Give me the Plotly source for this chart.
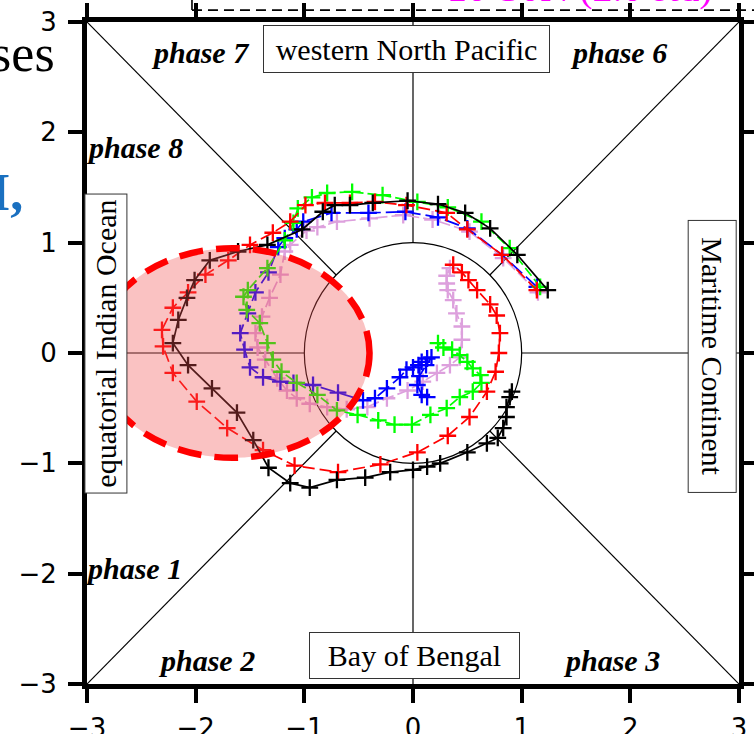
import plotly.graph_objects as go

# ---------------- data ----------------
black_x = [1.24, 0.96, 0.71, 0.48, 0.23, -0.05, -0.37, -0.58, -0.72, -0.83, -1.02, -1.34, -1.61, -1.87,
           -2.01, -2.08, -2.16, -2.21, -2.07, -1.85, -1.62, -1.47, -1.33, -1.13, -0.95, -0.70, -0.44,
           -0.21, 0.00, 0.13, 0.25, 0.50, 0.68, 0.78, 0.83, 0.86, 0.86, 0.89, 0.91]
black_y = [0.57, 0.89, 1.13, 1.27, 1.35, 1.38, 1.36, 1.34, 1.34, 1.28, 1.12, 0.98, 0.92, 0.84,
           0.66, 0.50, 0.30, 0.09, -0.11, -0.32, -0.54, -0.79, -1.04, -1.18, -1.22, -1.15, -1.13,
           -1.08, -1.06, -1.03, -1.00, -0.90, -0.82, -0.77, -0.68, -0.58, -0.49, -0.40, -0.35]

red_x = [1.14, 0.82, 0.50, 0.31, -0.06, -0.35, -0.58, -0.81, -0.99, -1.13, -1.29, -1.50, -1.70, -1.91,
         -2.07, -2.21, -2.31, -2.30, -2.21, -1.99, -1.71, -1.38, -1.09, -0.69, -0.30, 0.04, 0.32,
         0.52, 0.68, 0.76, 0.79, 0.80, 0.77, 0.71, 0.59, 0.51, 0.45, 0.37]
red_y = [0.57, 0.89, 1.12, 1.27, 1.34, 1.37, 1.36, 1.36, 1.34, 1.19, 1.09, 0.98, 0.84, 0.71,
         0.55, 0.41, 0.21, 0.06, -0.18, -0.44, -0.68, -0.88, -1.02, -1.08, -1.01, -0.90, -0.75,
         -0.58, -0.35, -0.17, 0.00, 0.18, 0.34, 0.44, 0.57, 0.66, 0.73, 0.80]

green_x = [1.17, 0.89, 0.63, 0.32, 0.04, -0.28, -0.56, -0.79, -0.93, -1.06, -1.10, -1.18, -1.34, -1.52,
           -1.56, -1.53, -1.41, -1.34, -1.29, -1.21, -1.07, -0.88, -0.70, -0.51, -0.32, -0.17, -0.01,
           0.16, 0.31, 0.43, 0.55, 0.63, 0.62, 0.55, 0.50, 0.43, 0.36, 0.28, 0.23]
green_y = [0.60, 0.95, 1.19, 1.32, 1.37, 1.43, 1.46, 1.45, 1.41, 1.31, 1.18, 1.02, 0.77, 0.57,
           0.51, 0.39, 0.27, 0.09, -0.06, -0.17, -0.27, -0.38, -0.52, -0.56, -0.61, -0.65, -0.65,
           -0.56, -0.50, -0.40, -0.35, -0.27, -0.20, -0.14, -0.08, -0.02, 0.03, 0.05, 0.09]

blue_x = [1.14, 0.82, 0.50, 0.23, -0.07, -0.41, -0.75, -1.01, -1.07, -1.18, -1.24, -1.33, -1.45, -1.52,
          -1.59, -1.55, -1.50, -1.38, -1.22, -1.10, -0.92, -0.69, -0.46, -0.35, -0.24, -0.12, -0.06,
          0.00, 0.05, 0.08, 0.13, 0.17, 0.12, 0.06, 0.04, 0.08, 0.13]
blue_y = [0.60, 0.89, 1.13, 1.23, 1.28, 1.27, 1.27, 1.19, 1.12, 1.04, 0.96, 0.73, 0.55, 0.36,
          0.18, 0.03, -0.13, -0.22, -0.26, -0.27, -0.29, -0.36, -0.43, -0.41, -0.32, -0.22, -0.15,
          -0.13, -0.11, -0.08, -0.05, -0.04, -0.11, -0.21, -0.29, -0.38, -0.40]

plum_x = [1.15, 0.83, 0.52, 0.18, -0.09, -0.40, -0.70, -0.88, -0.98, -1.13, -1.18, -1.22, -1.32, -1.39,
          -1.45, -1.43, -1.36, -1.25, -1.16, -1.07, -0.95, -0.79, -0.61, -0.42, -0.24, -0.05, 0.09,
          0.22, 0.34, 0.43, 0.45, 0.45, 0.40, 0.37, 0.32, 0.31, 0.31, 0.34]
plum_y = [0.55, 0.86, 1.10, 1.21, 1.25, 1.22, 1.19, 1.14, 1.11, 0.98, 0.92, 0.71, 0.50, 0.33,
          0.18, 0.05, -0.06, -0.23, -0.34, -0.41, -0.46, -0.49, -0.51, -0.49, -0.41, -0.34, -0.26,
          -0.18, -0.11, -0.04, 0.12, 0.24, 0.36, 0.48, 0.57, 0.63, 0.70, 0.77]

tick_vals = [-3, -2, -1, 0, 1, 2, 3]

regions = ["western North Pacific", "Bay of Bengal", "equatorial Indian Ocean", "Maritime Continent"]
phases = ["phase 1", "phase 2", "phase 3", "phase 6", "phase 7", "phase 8"]

# ---------------- figure ----------------
fig = go.Figure()

series = [
    ("plum", plum_x, plum_y, "#dda0dd", "12px,4px"),
    ("blue", blue_x, blue_y, "#0000ff", "15px,5px"),
    ("green", green_x, green_y, "#00ff00", "10px,4px"),
    ("red", red_x, red_y, "#ff0000", "12px,5px"),
    ("black", black_x, black_y, "#000000", "solid"),
]
for name, xs, ys, col, dash in series:
    fig.add_trace(go.Scatter(
        x=xs, y=ys, mode="lines+markers", name=name, showlegend=False,
        line=dict(color=col, width=1.7, dash=dash),
        marker=dict(symbol="cross-thin", size=12, line=dict(color=col, width=2.3), color=col),
        cliponaxis=False,
    ))

shapes = []
thin = dict(color="black", width=1.2)
r = 0.70710678
for sx, sy in [(-1, 1), (1, 1), (-1, -1), (1, -1)]:
    shapes.append(dict(type="line", xref="x", yref="y", x0=3 * sx, y0=3 * sy, x1=r * sx, y1=r * sy, line=thin, layer="below"))
shapes += [
    dict(type="line", xref="x", yref="y", x0=-3, y0=0, x1=-1, y1=0, line=thin, layer="below"),
    dict(type="line", xref="x", yref="y", x0=1, y0=0, x1=3, y1=0, line=thin, layer="below"),
    dict(type="line", xref="x", yref="y", x0=0, y0=1, x1=0, y1=3, line=thin, layer="below"),
    dict(type="line", xref="x", yref="y", x0=0, y0=-1, x1=0, y1=-3, line=thin, layer="below"),
    dict(type="circle", xref="x", yref="y", x0=-1, y0=-1, x1=1, y1=1, line=thin, layer="below"),
    # highlighted ellipse
    dict(type="circle", xref="x", yref="y", x0=-2.92, y0=-0.95, x1=-0.40, y1=0.95,
         fillcolor="rgba(240,80,80,0.35)", line=dict(color="#ff0000", width=6.5, dash="24px,13px"),
         layer="above"),
    # dashed box edge of the panel above (cropped)
    dict(type="line", xref="paper", yref="paper", x0=0.161, y0=1.018, x1=1.03, y1=1.018,
         line=dict(color="black", width=1.6, dash="10px,6px")),
    dict(type="line", xref="paper", yref="paper", x0=0.161, y0=1.018, x1=0.161, y1=1.05,
         line=dict(color="black", width=1.6)),
]

serif = "Liberation Serif"
annotations = []
box_specs = [
    (regions[0], -0.06, 2.756, 0, 283, 44),
    (regions[1], 0.01, -2.74, 0, 207, 43),
    (regions[2], -2.83, 0.09, -90, 296, 39),
    (regions[3], 2.755, -0.03, 90, 269, 45),
]
for txt, x, y, ang, w, h in box_specs:
    annotations.append(dict(text=txt, x=x, y=y, xref="x", yref="y", showarrow=False,
                            textangle=ang, width=w, height=h, align="center", valign="middle",
                            font=dict(family=serif, size=30, color="black"),
                            bgcolor="white", bordercolor="#333333", borderwidth=1, borderpad=1))
phase_pos = [(-2.57, -1.95), (-1.90, -2.79), (1.83, -2.79), (1.89, 2.72), (-1.96, 2.72), (-2.56, 1.86)]
for txt, (x, y) in zip(phases, phase_pos):
    annotations.append(dict(text="<b><i>%s</i></b>" % txt, x=x, y=y, xref="x", yref="y", showarrow=False,
                            font=dict(family=serif, size=30, color="black")))

# cropped surrounding text
annotations += [
    dict(text="phases", x=-0.046, y=0.952, xref="paper", yref="paper", xanchor="right", yanchor="middle",
         showarrow=False, font=dict(family=serif, size=52, color="black")),
    dict(text="<b>I,</b>", x=-0.095, y=0.743, xref="paper", yref="paper", xanchor="right", yanchor="middle",
         showarrow=False, font=dict(family=serif, size=52, color="#1a70c0")),
    dict(text="10-30N (2.0 std)", x=0.756, y=1.052, xref="paper", yref="paper", xanchor="center", yanchor="middle",
         showarrow=False, font=dict(family=serif, size=40, color="#ff00ff")),
]

axis_common = dict(range=[-3, 3], tickvals=tick_vals, showgrid=False, zeroline=False,
                   showline=True, linewidth=5, linecolor="black", mirror="ticks",
                   ticks="outside", ticklen=14, tickwidth=4, tickcolor="black", automargin=False,
                   tickfont=dict(family="DejaVu Sans", size=26, color="black"))

fig.update_layout(
    width=754, height=734,
    margin=dict(l=87, r=15, t=22, b=50, pad=0, autoexpand=False),
    paper_bgcolor="white", plot_bgcolor="white",
    xaxis=dict(**axis_common, ticklabelstandoff=3),
    yaxis=dict(**axis_common, ticklabelstandoff=6),
    shapes=shapes, annotations=annotations, showlegend=False,
)

fig.write_html("out.html")
